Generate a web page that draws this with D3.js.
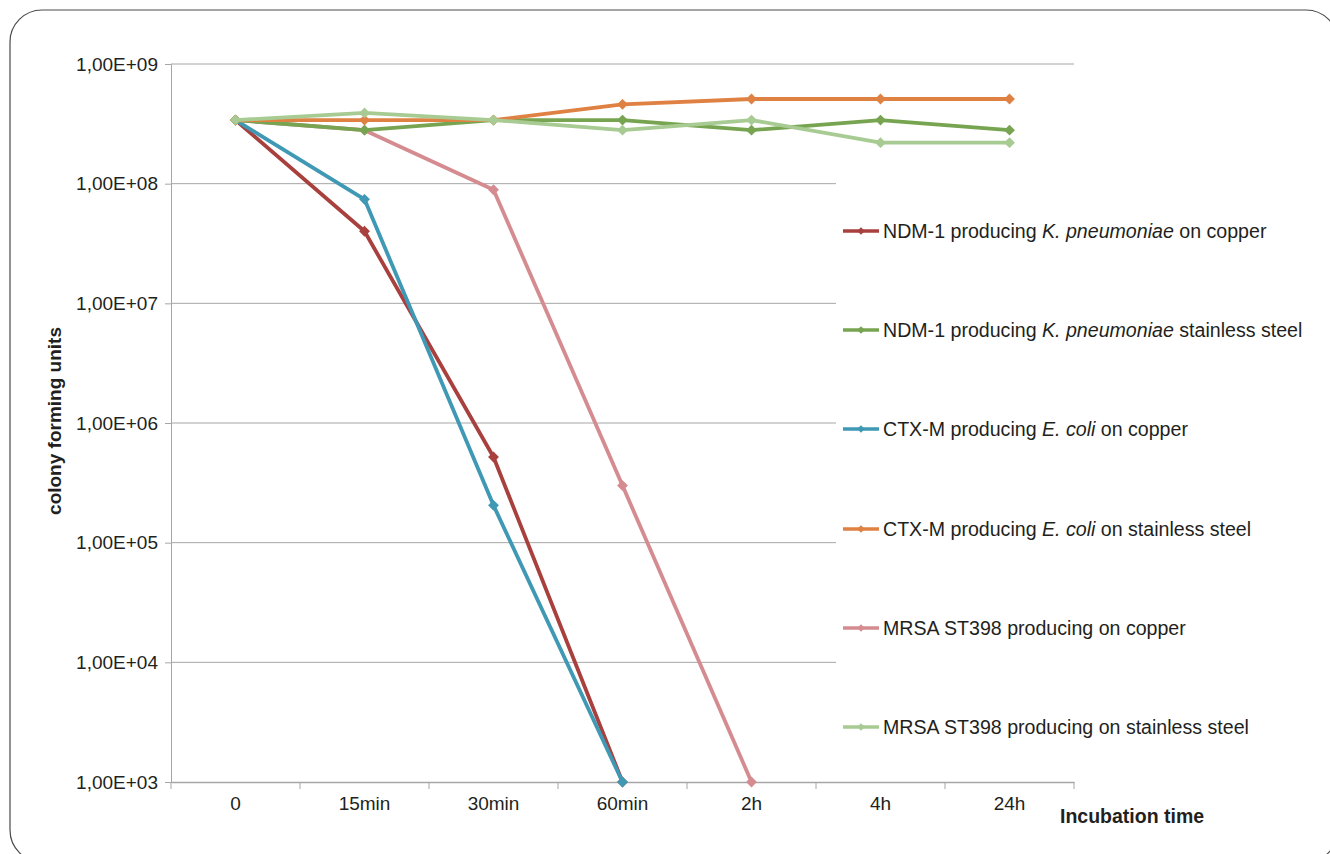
<!DOCTYPE html>
<html>
<head>
<meta charset="utf-8">
<script src="https://cdn.jsdelivr.net/npm/d3@7"></script>
<style>
  body { margin: 0; background: #fff; }
  svg { display: block; font-family: "Liberation Sans", Arial, sans-serif; }
</style>
</head>
<body>
<svg id="chart" width="1330" height="854"></svg>
<script>
const categories = ['0', '15min', '30min', '60min', '2h', '4h', '24h'];
const yTicks = [1e3, 1e4, 1e5, 1e6, 1e7, 1e8, 1e9];

const ndmCopper = [3.4e8, 4.0e7, 5.2e5, 1e3];
const ndmSteel = [3.4e8, 2.8e8, 3.4e8, 3.4e8, 2.8e8, 3.4e8, 2.8e8];
const ctxCopper = [3.4e8, 7.4e7, 2.05e5, 1e3];
const ctxSteel = [3.4e8, 3.4e8, 3.4e8, 4.6e8, 5.1e8, 5.1e8, 5.1e8];
const mrsaCopper = [3.4e8, 2.8e8, 8.9e7, 3.0e5, 1e3];
const mrsaSteel = [3.4e8, 3.9e8, 3.4e8, 2.8e8, 3.4e8, 2.2e8, 2.2e8];

const series = [
  { name: ['NDM-1 producing ', 'K. pneumoniae', ' on copper'], values: ndmCopper, color: '#a8403e' },
  { name: ['NDM-1 producing ', 'K. pneumoniae', ' stainless steel'], values: ndmSteel, color: '#77a450' },
  { name: ['CTX-M producing ', 'E. coli', ' on copper'], values: ctxCopper, color: '#3f99b4' },
  { name: ['CTX-M producing ', 'E. coli', ' on stainless steel'], values: ctxSteel, color: '#df8142' },
  { name: ['MRSA ST398 producing on copper', '', ''], values: mrsaCopper, color: '#d48c90' },
  { name: ['MRSA ST398 producing on stainless steel', '', ''], values: mrsaSteel, color: '#a7cb92' },
];
// draw order in picture: light greens/orange on top of reds
const drawOrder = [0, 2, 4, 1, 3, 5];

const svg = d3.select('#chart');
const margin = { left: 171, right: 1074, top: 64, bottom: 782 };
const fontSize = 19;

const x = d3.scaleBand().domain(categories).range([margin.left, margin.right]);
const y = d3.scaleLog().domain([1e3, 1e9]).range([margin.bottom, margin.top]);

// frame
svg.append('rect')
  .attr('x', 10).attr('y', 10)
  .attr('width', 1328).attr('height', 852)
  .attr('rx', 32).attr('ry', 32)
  .attr('fill', 'none')
  .attr('stroke', '#4a4a4a')
  .attr('stroke-width', 1.2);

// grid lines
svg.append('g')
  .selectAll('line')
  .data(yTicks.slice(1))
  .enter()
  .append('line')
  .attr('x1', margin.left)
  .attr('x2', margin.right)
  .attr('y1', d => y(d))
  .attr('y2', d => y(d))
  .attr('stroke', '#a6a6a6')
  .attr('stroke-width', 1);

// y axis
const yAxis = svg.append('g')
  .attr('transform', `translate(${margin.left},0)`)
  .call(d3.axisLeft(y).tickValues(yTicks).tickSize(6).tickPadding(7)
    .tickFormat(d => '1,00E+' + String(Math.round(Math.log10(d))).padStart(2, '0')));
yAxis.select('.domain').attr('stroke', '#a6a6a6');
yAxis.selectAll('.tick line').attr('stroke', '#a6a6a6');
yAxis.selectAll('text')
  .attr('font-size', fontSize)
  .attr('fill', '#231f20')
  .attr('font-family', '"Liberation Sans", Arial, sans-serif');

// x axis
const xAxis = svg.append('g')
  .attr('transform', `translate(0,${margin.bottom})`)
  .call(d3.axisBottom(x).tickSize(0).tickPadding(15));
xAxis.select('.domain').attr('stroke', '#a6a6a6').attr('stroke-width', 1.5);
xAxis.selectAll('text')
  .attr('font-size', fontSize)
  .attr('fill', '#231f20')
  .attr('font-family', '"Liberation Sans", Arial, sans-serif');
svg.append('g')
  .selectAll('line')
  .data(d3.range(categories.length + 1))
  .enter()
  .append('line')
  .attr('x1', i => margin.left + i * x.step())
  .attr('x2', i => margin.left + i * x.step())
  .attr('y1', margin.bottom)
  .attr('y2', margin.bottom + 7)
  .attr('stroke', '#a6a6a6');

// axis titles
svg.append('text')
  .attr('transform', 'translate(61,421) rotate(-90)')
  .attr('text-anchor', 'middle')
  .attr('font-size', fontSize)
  .attr('font-weight', 'bold')
  .attr('fill', '#231f20')
  .text('colony forming units');

svg.append('text')
  .attr('x', 1060)
  .attr('y', 823)
  .attr('font-size', 19.5)
  .attr('font-weight', 'bold')
  .attr('fill', '#231f20')
  .text('Incubation time');

// legend background hides the grid
svg.append('rect')
  .attr('x', 836).attr('y', 172)
  .attr('width', 475).attr('height', 598)
  .attr('fill', '#fff');

// series
const line = d3.line()
  .x((d, i) => x(categories[i]) + x.bandwidth() / 2)
  .y(d => y(d));
const diamond = d3.symbol().type(d3.symbolDiamond2).size(75);

const plot = svg.append('g');
drawOrder.forEach(si => {
  const s = series[si];
  const g = plot.append('g');
  g.append('path')
    .datum(s.values)
    .attr('d', line)
    .attr('fill', 'none')
    .attr('stroke', s.color)
    .attr('stroke-width', 3.8)
    .attr('stroke-linejoin', 'round');
  g.selectAll('path.pt')
    .data(s.values)
    .enter()
    .append('path')
    .attr('class', 'pt')
    .attr('d', diamond)
    .attr('transform', (d, i) => `translate(${x(categories[i]) + x.bandwidth() / 2},${y(d)})`)
    .attr('fill', s.color);
});

// legend
const legendY = [231, 330, 429, 529, 628, 727];
const legend = svg.append('g');
series.forEach((s, i) => {
  const g = legend.append('g').attr('transform', `translate(843,${legendY[i]})`);
  g.append('line')
    .attr('x1', 0).attr('x2', 36)
    .attr('stroke', s.color)
    .attr('stroke-width', 3.5);
  g.append('path')
    .attr('d', d3.symbol().type(d3.symbolDiamond2).size(36))
    .attr('transform', 'translate(18,0)')
    .attr('fill', s.color);
  const t = g.append('text')
    .attr('x', 40)
    .attr('y', 7)
    .attr('font-size', 19.6)
    .attr('fill', '#231f20');
  t.append('tspan').text(s.name[0]);
  if (s.name[1]) t.append('tspan').attr('font-style', 'italic').text(s.name[1]);
  if (s.name[2]) t.append('tspan').text(s.name[2]);
});
</script>
</body>
</html>
